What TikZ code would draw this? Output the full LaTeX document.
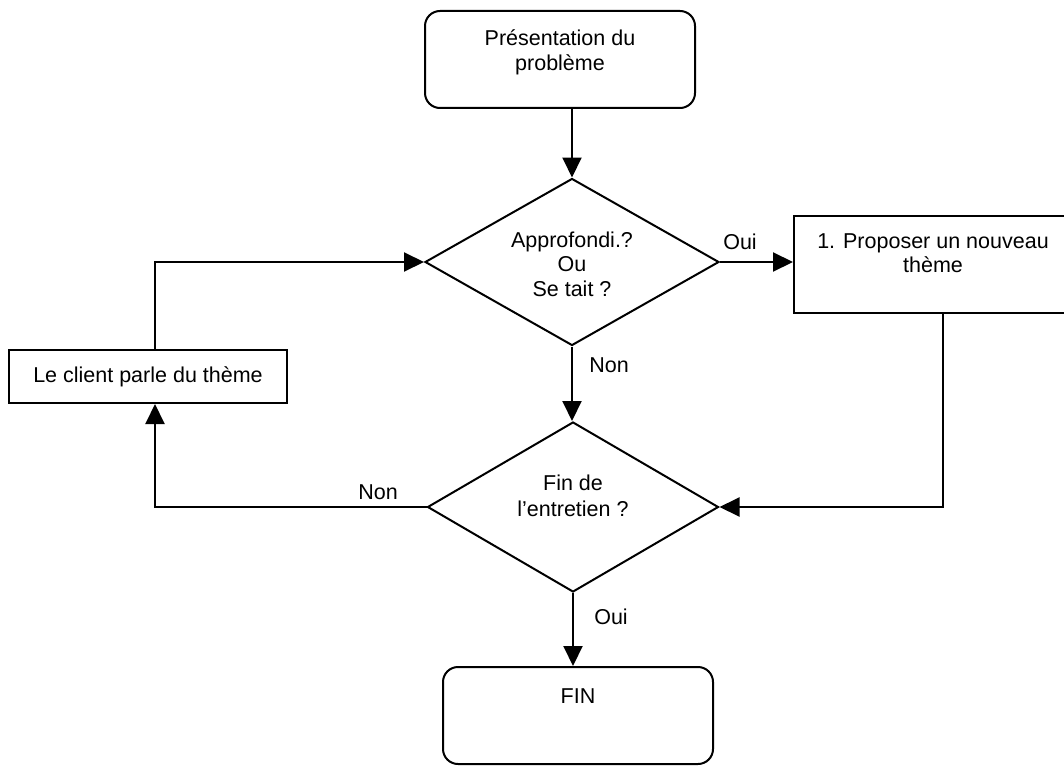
\documentclass[tikz,border=0pt]{standalone}
\usepackage{fontspec}
\setmainfont{Liberation Sans}
\usetikzlibrary{arrows.meta,shapes.geometric}

% centred lines whose baseline is that of the first line
\newcommand{\txtrows}[1]{\begin{tabular}[t]{@{}c@{}}#1\end{tabular}}

\tikzset{
  base/.style={draw=black, line width=2pt, inner sep=0pt,
    font=\fontsize{21.5}{24.5}\selectfont},
  roundbox/.style={base, rectangle, rounded corners=15pt,
    minimum width=270pt},
  plainbox/.style={base, rectangle},
  decision/.style={base, diamond, shape aspect=1.75},
  flow/.style={draw=black, line width=2pt,
    -{Triangle[length=20pt,width=19pt]}},
  tag/.style={inner sep=0pt, font=\fontsize{21.5}{24}\selectfont}
}

\begin{document}
\begin{tikzpicture}[x=1pt, y=-1pt]
\useasboundingbox (0,0) rectangle (1064,765);
\clip (0,0) rectangle (1064,765);

% boxes and decisions
\node[roundbox, anchor=north, text height=35pt, text depth=62pt]
  (start) at (560,10) {\txtrows{Présentation du\\problème}};
\node[decision, minimum width=294pt, minimum height=167pt,
  text height=15pt, text depth=45pt] (d1) at (572,262)
  {\txtrows{Approfondi.?\\Ou\\Se tait ?}};
\node[plainbox, anchor=north west, minimum width=278pt,
  text height=32pt, text depth=65pt] (prop) at (793,215)
  {\txtrows{1. Proposer un nouveau\\thème}};
\node[plainbox, minimum width=278pt, minimum height=53pt]
  (client) at (148,376.5) {Le client parle du thème};
\node[decision, minimum width=291pt, minimum height=170pt,
  font=\fontsize{21.5}{26}\selectfont,
  text height=15pt, text depth=49pt] (d2) at (573,507)
  {\txtrows{Fin de\\l'entretien ?}};
\node[roundbox, anchor=north, text height=36pt, text depth=61pt]
  (fin) at (578,666) {FIN};

% connectors
\draw[flow] (start.south -| d1.north) -- (d1.north);
\draw[flow] (d1.east) -- (d1.east -| prop.west);
\draw[flow] (d1.south) -- (d1.south |- d2.north);
\draw[flow] ([xshift=10pt]prop.south) |- (d2.east);
\draw[flow] (d2.west) -| ([xshift=7pt]client.south);
\draw[flow] ([xshift=7pt]client.north) |- (d1.west);
\draw[flow] (d2.south) -- (d2.south |- fin.north);

% branch labels
\node[tag] (oui1) at (740,242) {Oui};
\node[tag] (non1) at (609,365) {Non};
\node[tag] (non2) at (378,492) {Non};
\node[tag] (oui2) at (611,617) {Oui};
\end{tikzpicture}
\end{document}
